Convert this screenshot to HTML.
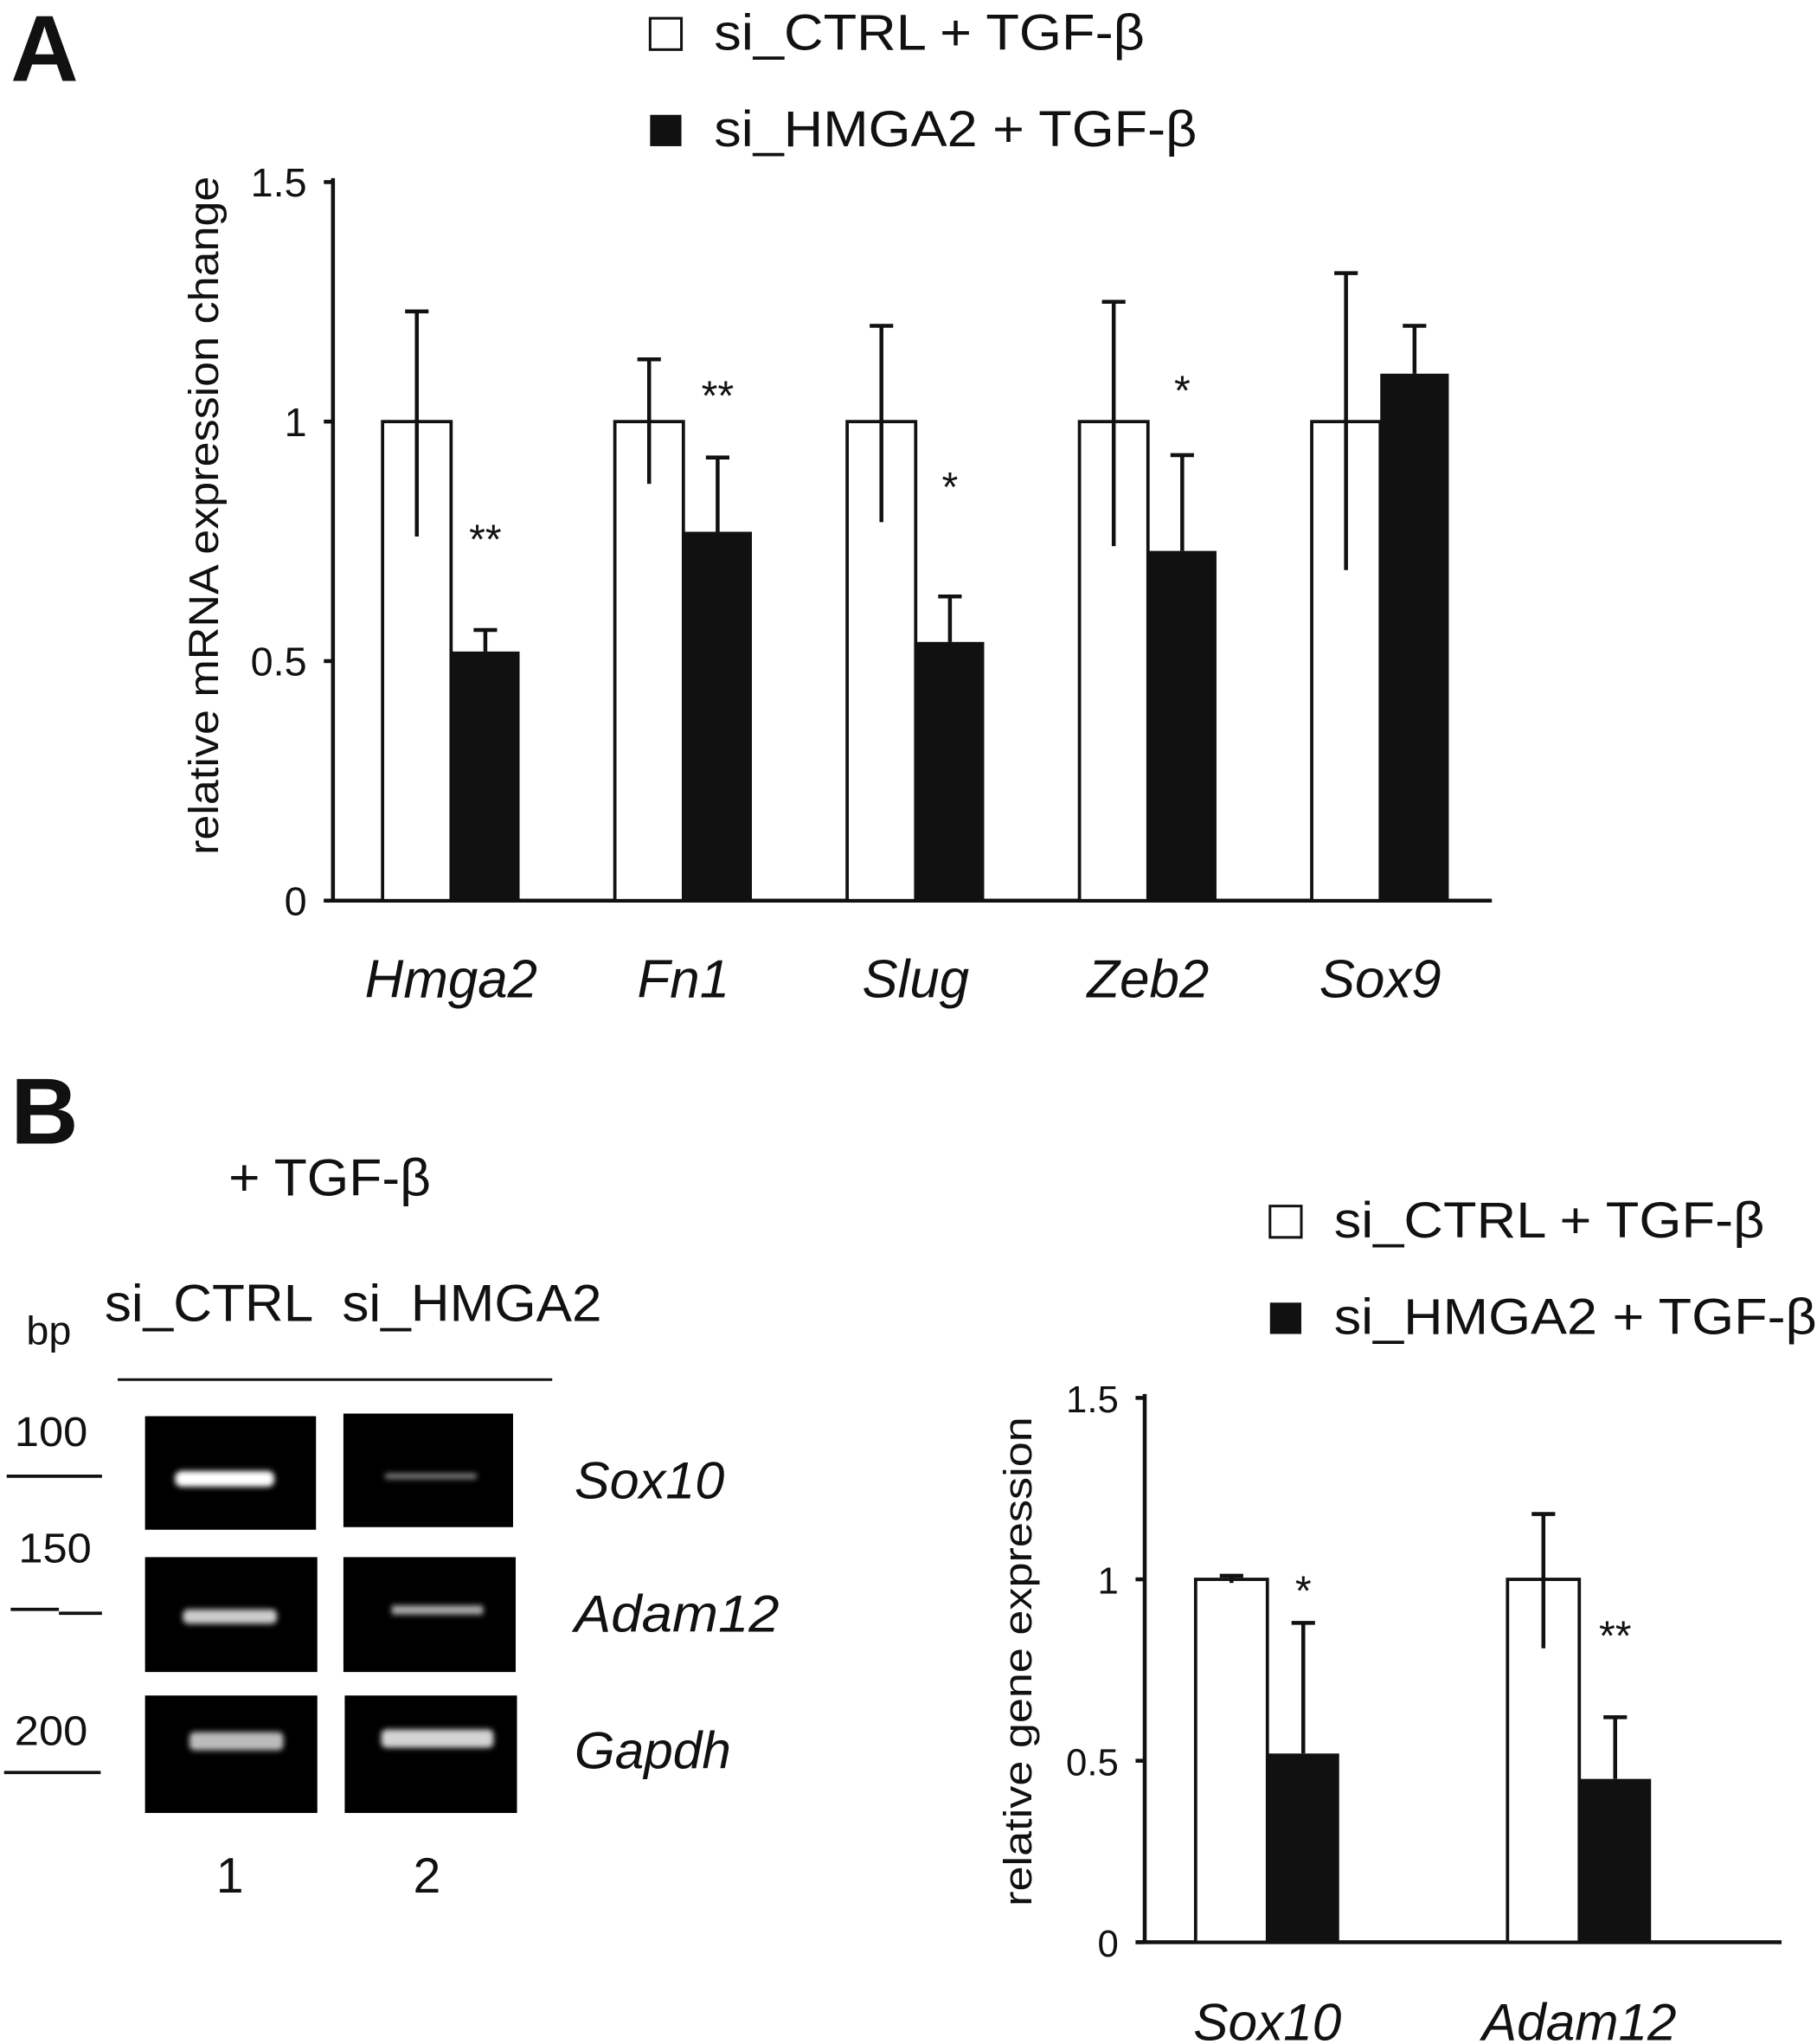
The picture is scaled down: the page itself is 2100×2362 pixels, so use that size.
<!DOCTYPE html>
<html><head><meta charset="utf-8"><style>
html,body{margin:0;padding:0;background:#fff}
svg{display:block}
text{font-family:"Liberation Sans",Arial,sans-serif;fill:#111}
.it{font-style:italic}
</style></head><body>
<svg id="fig" width="2100" height="2362" viewBox="0 0 1392 1566" xmlns="http://www.w3.org/2000/svg">
<defs>
<filter id="blur" x="-20%" y="-200%" width="140%" height="500%"><feGaussianBlur stdDeviation="2.2"/></filter>
</defs>
<text x="8" y="62" font-size="72" font-weight="bold">A</text>
<text x="8" y="876" font-size="72" font-weight="bold">B</text>

<g>
<rect x="498" y="14" width="24" height="24" fill="#fff" stroke="#111" stroke-width="2"/>
<text x="547" y="38" font-size="39" textLength="330" lengthAdjust="spacingAndGlyphs">si_CTRL + TGF-β</text>
<rect x="498" y="88" width="24" height="24" fill="#111"/>
<text x="547" y="112" font-size="39" textLength="370" lengthAdjust="spacingAndGlyphs">si_HMGA2 + TGF-β</text>
</g>

<g id="chartA"></g>
<text transform="translate(167,395) rotate(-90)" text-anchor="middle" font-size="32" textLength="520" lengthAdjust="spacingAndGlyphs">relative mRNA expression change</text>

<g>
<text x="175" y="916" font-size="40" textLength="155" lengthAdjust="spacingAndGlyphs">+ TGF-β</text>
<text x="80" y="1012" font-size="40" textLength="160" lengthAdjust="spacingAndGlyphs">si_CTRL</text>
<text x="262" y="1012" font-size="40" textLength="199" lengthAdjust="spacingAndGlyphs">si_HMGA2</text>
<text x="20" y="1030" font-size="31">bp</text>
<line x1="90" y1="1057" x2="423" y2="1057" stroke="#111" stroke-width="2"/>
<text x="11" y="1108" font-size="32" textLength="56" lengthAdjust="spacingAndGlyphs">100</text>
<line x1="5" y1="1131" x2="78" y2="1131" stroke="#111" stroke-width="2.5"/>
<text x="14" y="1197" font-size="32" textLength="56" lengthAdjust="spacingAndGlyphs">150</text>
<line x1="8" y1="1233" x2="45" y2="1233" stroke="#111" stroke-width="2.5"/>
<line x1="45" y1="1236" x2="78" y2="1236" stroke="#111" stroke-width="2.5"/>
<text x="11" y="1337" font-size="32" textLength="56" lengthAdjust="spacingAndGlyphs">200</text>
<line x1="3" y1="1358" x2="77" y2="1358" stroke="#111" stroke-width="2.5"/>
<rect x="111" y="1085" width="131" height="87" fill="#000"/>
<rect x="263" y="1083" width="130" height="87" fill="#000"/>
<rect x="111" y="1193" width="132" height="88" fill="#000"/>
<rect x="263" y="1193" width="132" height="88" fill="#000"/>
<rect x="111" y="1299" width="132" height="90" fill="#000"/>
<rect x="264" y="1299" width="132" height="90" fill="#000"/>
<g filter="url(#blur)">
<rect x="134" y="1127" width="76" height="12" rx="5" fill="#fff"/>
<rect x="295" y="1129" width="70" height="4" fill="#888"/>
<rect x="140" y="1233" width="72" height="11" rx="4" fill="#ccc"/>
<rect x="300" y="1230" width="70" height="7" fill="#aaa"/>
<rect x="145" y="1327" width="72" height="14" rx="4" fill="#bbb"/>
<rect x="292" y="1325" width="86" height="14" rx="4" fill="#d4d4d4"/>
</g>
<text x="440" y="1148" font-size="40" class="it" textLength="115" lengthAdjust="spacingAndGlyphs">Sox10</text>
<text x="440" y="1250" font-size="40" class="it" textLength="157" lengthAdjust="spacingAndGlyphs">Adam12</text>
<text x="440" y="1355" font-size="40" class="it" textLength="120" lengthAdjust="spacingAndGlyphs">Gapdh</text>
<text x="176" y="1450" font-size="38" text-anchor="middle">1</text>
<text x="327" y="1450" font-size="38" text-anchor="middle">2</text>
</g>

<g>
<rect x="973" y="924" width="24" height="24" fill="#fff" stroke="#111" stroke-width="2"/>
<text x="1022" y="948" font-size="39" textLength="330" lengthAdjust="spacingAndGlyphs">si_CTRL + TGF-β</text>
<rect x="973" y="998" width="24" height="24" fill="#111"/>
<text x="1022" y="1022" font-size="39" textLength="370" lengthAdjust="spacingAndGlyphs">si_HMGA2 + TGF-β</text>
</g>
<g id="chartB"></g>
<text transform="translate(790,1273) rotate(-90)" text-anchor="middle" font-size="30" textLength="375" lengthAdjust="spacingAndGlyphs">relative gene expression</text>
</svg>
<script>
var catsA=["Hmga2","Fn1","Slug","Zeb2","Sox9"];
var ctrlA=[1,1,1,1,1];
var ctrlErrUpA=[0.23,0.13,0.2,0.25,0.31];
var ctrlErrLoA=[0.24,0.13,0.21,0.26,0.31];
var hmgaA=[0.52,0.77,0.54,0.73,1.1];
var hmgaErrA=[0.045,0.155,0.095,0.2,0.1];
var starsA=["**","**","*","*",""];
var starLevelA=[0.763,1.063,0.872,1.074,0];
var ticksA=[0,0.5,1,1.5];
var tickLabelsA=["0","0.5","1","1.5"];

var catsB=["Sox10","Adam12"];
var ctrlB=[1,1];
var ctrlErrUpB=[0.01,0.18];
var ctrlErrLoB=[0.01,0.19];
var hmgaB=[0.52,0.45];
var hmgaErrB=[0.36,0.17];
var starsB=["*","**"];
var starLevelB=[0.98,0.856];
var ticksB=[0,0.5,1,1.5];
var tickLabelsB=["0","0.5","1","1.5"];

var NS="http://www.w3.org/2000/svg";
function mk(p,tag,at,txt){var e=document.createElementNS(NS,tag);for(var k in at)e.setAttribute(k,at[k]);if(txt!=null)e.textContent=txt;p.appendChild(e);return e;}

function draw(gid,c){
  var g=document.getElementById(gid);
  function y(v){return c.y0-v*c.ys;}
  function x(i){return c.x0+i*c.step;}
  var ax=mk(g,"line",{x1:c.ax,y1:y(c.ymax)-3,x2:c.ax,y2:c.y0,stroke:"#111","stroke-width":3});
  
  
  var xa=mk(g,"line",{x1:c.ax-7,y1:c.y0,x2:c.xend,y2:c.y0,stroke:"#111","stroke-width":3});
  
  
  c.ticks.forEach(function(t,i){
    mk(g,"line",{x1:c.ax-7,y1:y(t),x2:c.ax,y2:y(t),stroke:"#111","stroke-width":3});
    var tl=mk(g,"text",{x:c.ax-20,y:y(t)+11,"text-anchor":"end","font-size":c.tfs},c.tl[i]);
    
    
  });
  function err(cx,top,bot,cap){
    mk(g,"line",{x1:cx,y1:y(top),x2:cx,y2:y(bot),stroke:"#111","stroke-width":3});
    mk(g,"line",{x1:cx-cap,y1:y(top),x2:cx+cap,y2:y(top),stroke:"#111","stroke-width":3});
  }
  c.cats.forEach(function(cat,i){
    var bx=x(i);
    var b1=mk(g,"rect",{x:bx,y:y(c.ctrl[i]),width:c.bw,height:c.ctrl[i]*c.ys,fill:"#fff",stroke:"#111","stroke-width":2.5});
    
    
    var b2=mk(g,"rect",{x:bx+c.bw,y:y(c.hm[i]),width:c.bw,height:c.hm[i]*c.ys,fill:"#111"});
    
    
    err(bx+c.bw/2,c.ctrl[i]+c.eu[i],c.ctrl[i]-c.el[i],9);
    err(bx+c.bw*1.5,c.hm[i]+c.he[i],c.hm[i],9);
    if(c.stars[i]){
      var s=mk(g,"text",{x:bx+c.bw*1.5,y:y(c.sl[i])+14,"text-anchor":"middle","font-size":32},c.stars[i]);
      
      
    }
    var l=mk(g,"text",{x:bx+c.bw,y:c.ly,"text-anchor":"middle","font-size":c.lfs,"class":"it"},cat);
    
    
  });
}
draw("chartA",{y0:690,ys:367,ymax:1.5,ax:255,xend:1143,x0:293,step:178,bw:52.5,cats:catsA,ctrl:ctrlA,eu:ctrlErrUpA,el:ctrlErrLoA,hm:hmgaA,he:hmgaErrA,stars:starsA,sl:starLevelA,ticks:ticksA,tl:tickLabelsA,tfs:31,lfs:41,ly:764,});
draw("chartB",{y0:1488,ys:278,ymax:1.5,ax:877,xend:1365,x0:916,step:239,bw:55,cats:catsB,ctrl:ctrlB,eu:ctrlErrUpB,el:ctrlErrLoB,hm:hmgaB,he:hmgaErrB,stars:starsB,sl:starLevelB,ticks:ticksB,tl:tickLabelsB,tfs:29,lfs:40,ly:1563});
</script>
</body></html>
